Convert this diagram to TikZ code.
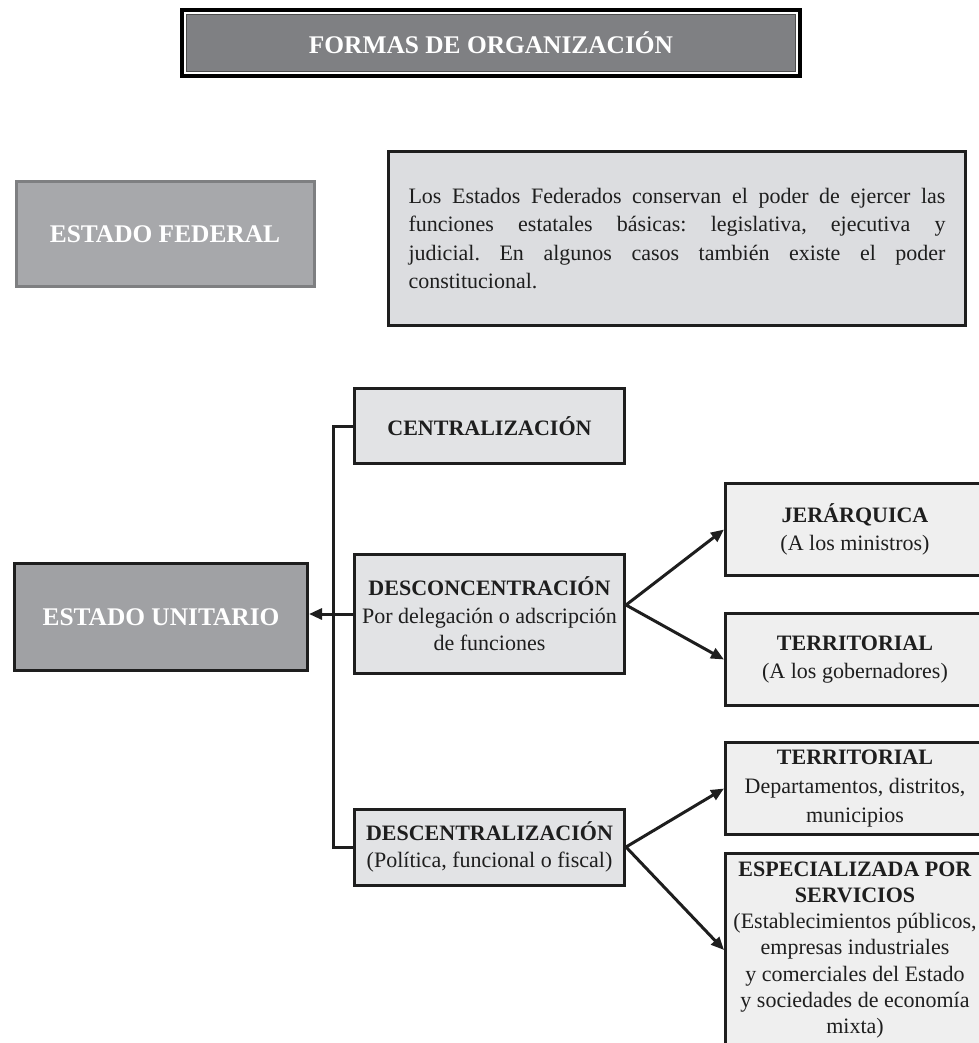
\documentclass[tikz,border=0pt]{standalone}
\usepackage{fontspec}
\setmainfont{Liberation Serif}
\usetikzlibrary{arrows.meta,calc}

\definecolor{titlefill}{HTML}{7F8083}
\definecolor{fedfill}{HTML}{A7A8AB}
\definecolor{fedline}{HTML}{7E7F81}
\definecolor{unifill}{HTML}{A0A1A4}
\definecolor{notefill}{HTML}{DCDDE0}
\definecolor{midfill}{HTML}{E2E3E5}
\definecolor{leaffill}{HTML}{EFEFEF}
\definecolor{ink}{HTML}{1E1E1E}

\frenchspacing

\begin{document}
\begin{tikzpicture}[x=1pt,y=-1pt,
  box/.style={draw=ink, line width=3pt, inner sep=0pt, align=center, text=ink},
  darkhead/.style={font=\fontsize{25.4}{30}\selectfont\bfseries, text=white},
  midbox/.style={box, fill=midfill, minimum width=270pt, font=\fontsize{22}{27.5}\selectfont},
  leafbox/.style={box, fill=leaffill, minimum width=259pt, font=\fontsize{22}{28}\selectfont},
  link/.style={draw=ink, line width=3pt},
  arrow/.style={link, -{Triangle[length=13pt,width=11pt]}},
]
\useasboundingbox (0,0) rectangle (978,1043);

% title banner with framed border
\node[draw=black, line width=4pt, fill=titlefill, minimum width=618pt, minimum height=66pt,
      inner sep=0pt, darkhead] (title) at (491,43) {FORMAS DE ORGANIZACIÓN};
\draw[white, line width=1.6pt] ($(title.north west)+(4.8,4.8)$) rectangle ($(title.south east)+(-4.8,-4.8)$);
\draw[black!70, line width=1.6pt] ($(title.north west)+(6.4,6.4)$) rectangle ($(title.south east)+(-6.4,-6.4)$);

% federal state
\node[draw=fedline, line width=3pt, fill=fedfill, minimum width=298pt, minimum height=105pt,
      inner sep=0pt, darkhead] (fed) at (165,234) {ESTADO FEDERAL};
\node[box, fill=notefill, minimum width=577pt, minimum height=174pt] (note) at (677,238.5) {};
\node[text width=537pt, align=justify, font=\fontsize{22}{28.2}\selectfont, text=ink, inner sep=0pt]
  (notetext) at (note.center)
  {Los Estados Federados conservan el poder de ejercer las\linebreak
   funciones estatales básicas: legislativa, ejecutiva y\linebreak
   judicial. En algunos casos también existe el poder\linebreak
   constitucional.};

% unitary state and its forms
\node[box, fill=unifill, minimum width=293pt, minimum height=107pt, darkhead] (uni) at (161,617) {ESTADO UNITARIO};
\node[midbox, minimum height=75pt] (cent) at (489.5,426) {\textbf{CENTRALIZACIÓN}};
\node[midbox, minimum height=119pt] (desc) at (489.5,614)
  {\textbf{DESCONCENTRACIÓN}\\Por delegación o adscripción\\de funciones};
\node[midbox, minimum height=76pt] (decen) at (489.5,847)
  {\textbf{DESCENTRALIZACIÓN}\\(Política, funcional o fiscal)};

\node[leafbox, minimum height=92pt] (jer) at (855,529.5) {\textbf{JERÁRQUICA}\\(A los ministros)};
\node[leafbox, minimum height=92pt] (terA) at (855,659.5) {\textbf{TERRITORIAL}\\(A los gobernadores)};
\node[leafbox, minimum height=92pt, font=\fontsize{22}{29}\selectfont] (terB) at (855,788.5)
  {\textbf{TERRITORIAL}\\Departamentos, distritos,\\municipios};
\node[leafbox, minimum height=193pt, font=\fontsize{22}{26.3}\selectfont] (esp) at (855,950)
  {\textbf{ESPECIALIZADA POR}\\\textbf{SERVICIOS}\\(Establecimientos públicos,\\empresas industriales\\y comerciales del Estado\\y sociedades de economía\\mixta)};

% connectors
\draw[link] (cent.west) -- ++(-20,0) |- (decen.west);
\draw[arrow] (desc.west) -- (desc.west -| uni.east);
\coordinate (dsplit) at ($(desc.east)+(0,-9)$);
\draw[arrow] (dsplit) -- (jer.west);
\draw[arrow] (dsplit) -- (terA.west);
\draw[arrow] (decen.east) -- (terB.west);
\draw[arrow] (decen.east) -- (esp.west);
\end{tikzpicture}
\end{document}
